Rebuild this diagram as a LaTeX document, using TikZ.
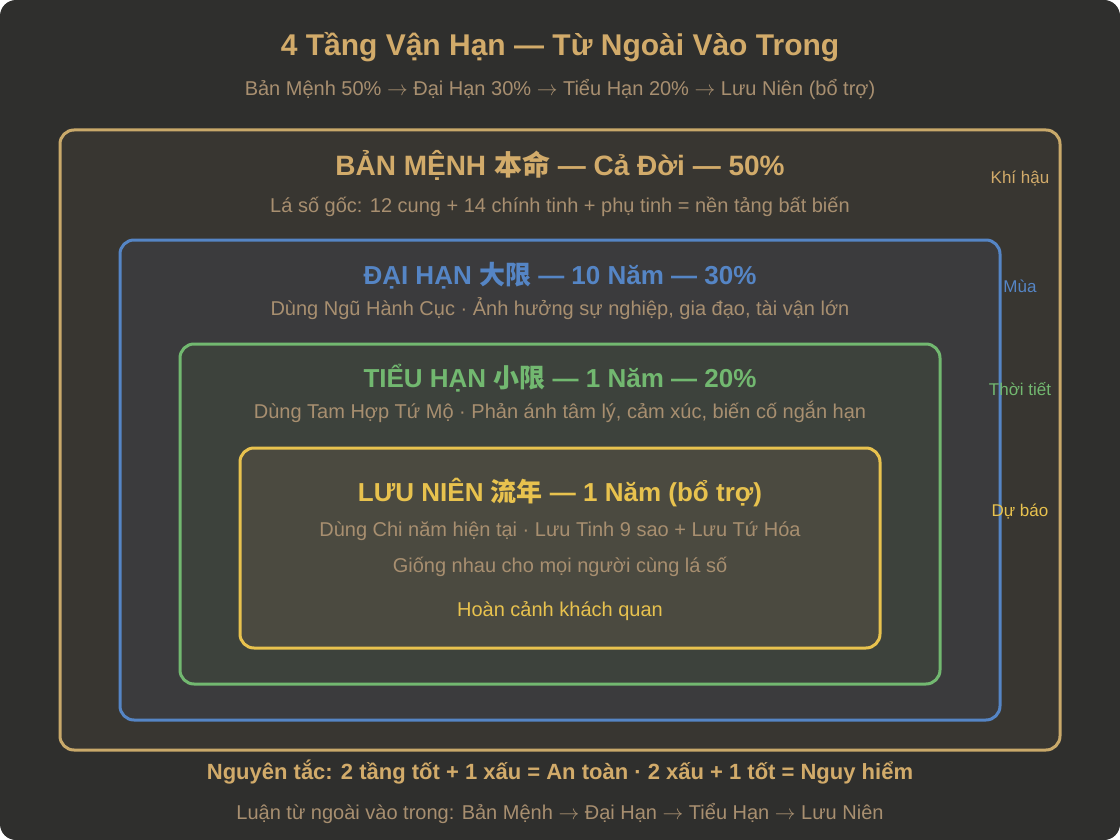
\documentclass[tikz,border=0pt]{standalone}
\usepackage{fontspec}
\setmainfont{Liberation Sans}
\newfontfamily\cjk{Noto Sans CJK SC}
\usetikzlibrary{positioning}
\definecolor{bgdark}{HTML}{2F2F2D}
\definecolor{gold}{HTML}{D2AB6A}
\definecolor{muted}{HTML}{A88F70}
\definecolor{menhfill}{HTML}{383631}
\definecolor{menhline}{HTML}{C9A96A}
\definecolor{daifill}{HTML}{3B3B3D}
\definecolor{dailine}{HTML}{5585C5}
\definecolor{tieufill}{HTML}{3D423C}
\definecolor{tieuline}{HTML}{72B870}
\definecolor{luufill}{HTML}{4B4A40}
\definecolor{luuline}{HTML}{E8C24E}
\newcommand{\tangto}{\ensuremath{\rightarrow}}

\begin{document}
\begin{tikzpicture}[line cap=round,line join=round,x=1pt,y=-1pt,
  layer/.style={line width=3pt,rounded corners=14pt},
  head/.style={anchor=base,font=\fontsize{26}{30}\selectfont\bfseries},
  note/.style={anchor=base,text=muted,font=\fontsize{20}{24}\selectfont},
  side/.style={anchor=base,font=\fontsize{17}{20}\selectfont}]
\useasboundingbox (0,0) rectangle (1120,840);
\fill [white] (0,0) rectangle (1120,840);
\fill [bgdark,rounded corners=16pt] (0,0) rectangle (1120,840);

% the four layers
\draw [layer,draw=menhline,fill=menhfill] (60,130) rectangle (1060,750);
\draw [layer,draw=dailine,fill=daifill] (120,240) rectangle (1000,720);
\draw [layer,draw=tieuline,fill=tieufill] (180,344) rectangle (940,684);
\draw [layer,draw=luuline,fill=luufill] (240,448) rectangle (880,648);

\node [anchor=base,text=gold,font=\fontsize{30}{34}\selectfont\bfseries] (title) at (560,56) {4 Tầng Vận Hạn — Từ Ngoài Vào Trong};
\node [note] (subtitle) at (560,96) {Bản Mệnh 50\% \tangto{} Đại Hạn 30\% \tangto{} Tiểu Hạn 20\% \tangto{} Lưu Niên (bổ trợ)};

\node [head,text=gold,font=\fontsize{28}{32}\selectfont\bfseries] (menh) at (560,176) {BẢN MỆNH {\cjk 本命} — Cả Đời — 50\%};
\node [note] (menhnote) at (560,212) {Lá số gốc: 12 cung + 14 chính tinh + phụ tinh = nền tảng bất biến};

\node [head,text=dailine] (dai) at (560,284) {ĐẠI HẠN {\cjk 大限} — 10 Năm — 30\%};
\node [note] (dainote) at (560,315) {Dùng Ngũ Hành Cục · Ảnh hưởng sự nghiệp, gia đạo, tài vận lớn};

\node [head,text=tieuline] (tieu) at (560,387) {TIỂU HẠN {\cjk 小限} — 1 Năm — 20\%};
\node [note] (tieunote) at (560,418) {Dùng Tam Hợp Tứ Mộ · Phản ánh tâm lý, cảm xúc, biến cố ngắn hạn};

\node [head,text=luuline] (luu) at (560,501) {LƯU NIÊN {\cjk 流年} — 1 Năm (bổ trợ)};
\node [note] (luunote) at (560,536) {Dùng Chi năm hiện tại · Lưu Tinh 9 sao + Lưu Tứ Hóa};
\node [note] (luunote2) at (560,572) {Giống nhau cho mọi người cùng lá số};
\node [note,text=luuline] (luukey) at (560,616) {Hoàn cảnh khách quan};

% labels on the right
\node [side,text=gold] (khihau) at (1020,184) {Khí hậu};
\node [side,text=dailine] (mua) at (1020,292) {Mùa};
\node [side,text=tieuline] (thoitiet) at (1020,395) {Thời tiết};
\node [side,text=luuline] (dubao) at (1020,516) {Dự báo};

\node [anchor=base,text=gold,font=\fontsize{22}{26}\selectfont\bfseries] (rule) at (560,779) {Nguyên tắc: 2 tầng tốt + 1 xấu = An toàn · 2 xấu + 1 tốt = Nguy hiểm};
\node [note] (order) at (560,819) {Luận từ ngoài vào trong: Bản Mệnh \tangto{} Đại Hạn \tangto{} Tiểu Hạn \tangto{} Lưu Niên};
\end{tikzpicture}
\end{document}
